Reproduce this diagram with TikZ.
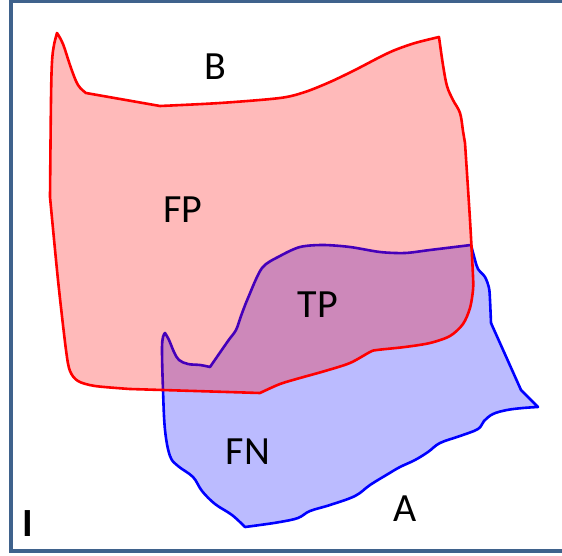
\documentclass[tikz,border=0pt]{standalone}
\usepackage{fontspec}
\setmainfont{Carlito}
\definecolor{frameblue}{RGB}{63,98,140}
\definecolor{bluefill}{RGB}{187,187,255}
\tikzset{
  setA/.style={draw={rgb,255:red,0;green,0;blue,255}, line width=2.6pt, fill=bluefill, line join=round},
  setB/.style={draw={rgb,255:red,255;green,0;blue,0}, line width=2.6pt, fill=red, fill opacity=0.27, draw opacity=1, line join=round},
  lbl/.style={inner sep=0pt, font=\fontsize{40}{44}\selectfont},
}
\begin{document}
\begin{tikzpicture}[x=1pt,y=-1pt]
\clip (0,0) rectangle (562,556);
\fill[white] (0,0) rectangle (562,556);
\draw[frameblue, line width=3.5pt] (11,1.5) rectangle (620,551);
% set A (blue)
\draw[setA] (210,367) -- plot[smooth, tension=0.5] coordinates {(210,367) (228,341) (236,330) (241,316) (248,298) (262,268) (280,256) (300,247) (323,245) (350,247) (380,252) (405,253) (430,250) (471,245)}
  -- plot[smooth, tension=0.5] coordinates {(471,245) (475,260) (478,269) (485,277) (489,288) (490,300) (491,323)}
  -- (521,390) -- plot[smooth, tension=0.6] coordinates {(521,390) (530,399) (538,407)}
  -- plot[smooth, tension=0.6] coordinates {(538,407) (523,408) (507,410) (493,414) (484,421) (478,429) (460,436) (440,443) (428,452) (415,460) (400,467) (388,474) (370,485) (355,496) (330,505) (310,511) (298,518) (280,522) (260,525) (245,527)}
  -- plot[smooth, tension=0.6] coordinates {(245,527) (232,515) (215,504) (202,491) (193,477) (178,466) (170,456) (165,430) (163,390) (162,350) (163,337) (165,333)}
  -- plot[smooth, tension=0.6] coordinates {(165,333) (169,340) (174,352) (179,360) (188,364) (200,365) (210,367)}
  -- cycle;
% set B (red)
\path[setB] (57,33) -- plot[smooth, tension=0.6] coordinates {(57,33) (54,45) (52,62) (51,100) (50,197)}
  -- plot[smooth, tension=0.5] coordinates {(50,197) (58,280) (66,350) (70,371) (78,381) (95,386) (130,389)}
  -- (260,393)
  -- plot[smooth, tension=0.5] coordinates {(260,393) (280,384) (300,378) (325,371) (350,363) (370,352) (377,350) (405,347) (430,343) (450,336) (463,324) (470,308) (473,290) (473,276) (470,220) (465,143)}
  -- plot[smooth, tension=0.6] coordinates {(465,143) (463,131) (460,113) (453,100) (447,86) (443,65) (439,37)}
  -- plot[smooth, tension=0.5] coordinates {(439,37) (415,43) (395,50) (380,57) (355,70) (330,82) (305,92) (280,98) (220,103) (160,106)}
  -- (86,93) -- plot[smooth, tension=0.6] coordinates {(86,93) (78,85) (71,68) (63,44) (57,33)} -- cycle;
% labels
\node[lbl] (lB) at (215,67) {B};
\node[lbl] (lFP) at (183,210) {FP};
\node[lbl] (lTP) at (318,305) {TP};
\node[lbl] (lFN) at (248,452) {FN};
\node[lbl] (lA) at (405,509) {A};
\node[lbl, font=\fontsize{40}{44}\selectfont\bfseries] (lI) at (28,524) {I};
\end{tikzpicture}
\end{document}
